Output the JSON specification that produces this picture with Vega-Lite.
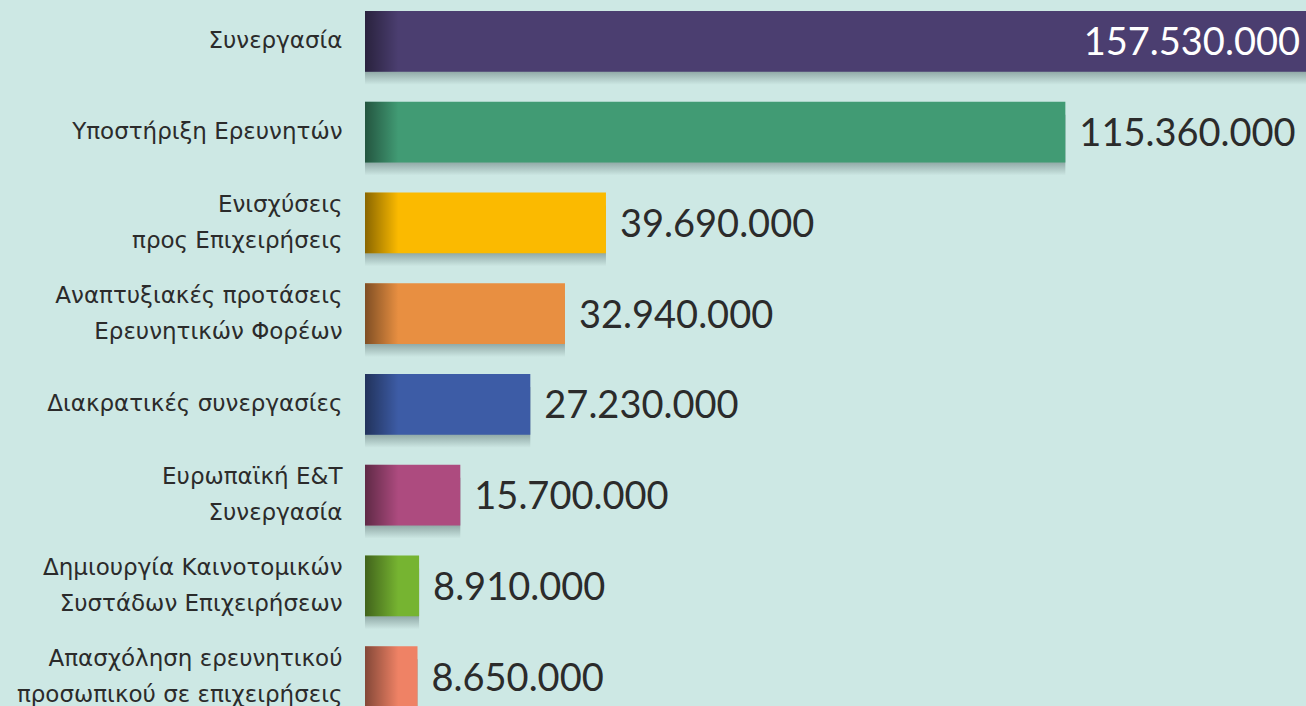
{
  "$schema": "https://vega.github.io/schema/vega-lite/v6.json",
  "width": 941,
  "height": 706,
  "autosize": {"type": "none"},
  "padding": {"left": 365, "top": 0, "right": 0, "bottom": 0},
  "background": "#cde8e4",
  "config": {
    "view": {"stroke": null},
    "locale": {"number": {"decimal": ",", "thousands": ".", "grouping": [3], "currency": ["", "€"]}}
  },
  "data": {
    "values": [
      {"label": "Συνεργασία", "value": 157530000},
      {"label": "Υποστήριξη Ερευνητών", "value": 115360000},
      {"label": "Ενισχύσεις|προς Επιχειρήσεις", "value": 39690000},
      {"label": "Αναπτυξιακές προτάσεις|Ερευνητικών Φορέων", "value": 32940000},
      {"label": "Διακρατικές συνεργασίες", "value": 27230000},
      {"label": "Ευρωπαϊκή Ε&Τ|Συνεργασία", "value": 15700000},
      {"label": "Δημιουργία Καινοτομικών|Συστάδων Επιχειρήσεων", "value": 8910000},
      {"label": "Απασχόληση ερευνητικού|προσωπικού σε επιχειρήσεις", "value": 8650000}
    ]
  },
  "encoding": {
    "y": {
      "field": "label",
      "type": "nominal",
      "sort": null,
      "scale": {"range": [-4, 722], "paddingInner": 0.33, "paddingOuter": 0.165},
      "axis": {
        "title": null,
        "domain": false,
        "ticks": false,
        "labelPadding": 23,
        "labelLimit": 400,
        "labelFont": "DejaVu Sans",
        "labelFontSize": 23,
        "labelColor": "#2b2b2b",
        "labelLineHeight": 36,
        "labelBaseline": "middle",
        "labelOffset": {"condition": {"test": "indexof(datum.value, '|') >= 0", "value": -18}, "value": 0},
        "labelExpr": "split(datum.label, '|')"
      }
    }
  },
  "layer": [
    {
      "mark": {
        "type": "bar",
        "yOffset": 13,
        "fill": {
          "gradient": "linear", "x1": 0, "y1": 0, "x2": 0, "y2": 1,
          "stops": [
            {"offset": 0, "color": "rgba(30,50,50,0.45)"},
            {"offset": 0.78, "color": "rgba(30,50,50,0.35)"},
            {"offset": 1, "color": "rgba(30,50,50,0)"}
          ]
        }
      },
      "encoding": {
        "x": {"field": "value", "type": "quantitative", "scale": {"domain": [0, 155000000], "clamp": true, "nice": false}, "axis": null}
      }
    },
    {
      "mark": {"type": "bar"},
      "encoding": {
        "x": {"field": "value", "type": "quantitative"},
        "color": {
          "field": "label",
          "type": "nominal",
          "legend": null,
          "scale": {
            "domain": ["Συνεργασία", "Υποστήριξη Ερευνητών", "Ενισχύσεις|προς Επιχειρήσεις", "Αναπτυξιακές προτάσεις|Ερευνητικών Φορέων", "Διακρατικές συνεργασίες", "Ευρωπαϊκή Ε&Τ|Συνεργασία", "Δημιουργία Καινοτομικών|Συστάδων Επιχειρήσεων", "Απασχόληση ερευνητικού|προσωπικού σε επιχειρήσεις"],
            "range": ["#4b3e70", "#419b74", "#fbba00", "#e88f41", "#3d5ca6", "#ad4b7f", "#76b431", "#ef8265"]
          }
        }
      }
    },
    {
      "mark": {
        "type": "rect",
        "fill": {
          "gradient": "linear", "x1": 0, "y1": 0, "x2": 1, "y2": 0,
          "stops": [
            {"offset": 0, "color": "rgba(0,0,0,0.45)"},
            {"offset": 1, "color": "rgba(0,0,0,0)"}
          ]
        }
      },
      "encoding": {
        "x": {"datum": 0, "type": "quantitative"},
        "x2": {"datum": 5500000}
      }
    },
    {
      "transform": [{"filter": "datum.value < 150000000"}],
      "mark": {"type": "text", "align": "left", "baseline": "middle", "dx": 14, "dy": 3, "font": "Lato", "fontSize": 38, "fontWeight": 400, "color": "#2b2b2b"},
      "encoding": {
        "x": {"field": "value", "type": "quantitative"},
        "text": {"field": "value", "type": "quantitative", "format": ",d"}
      }
    },
    {
      "transform": [{"filter": "datum.value >= 150000000"}],
      "mark": {"type": "text", "align": "right", "baseline": "middle", "dx": -6, "dy": 3, "font": "Lato", "fontSize": 38, "fontWeight": 400, "color": "#ffffff"},
      "encoding": {
        "x": {"field": "value", "type": "quantitative"},
        "text": {"field": "value", "type": "quantitative", "format": ",d"}
      }
    }
  ]
}
